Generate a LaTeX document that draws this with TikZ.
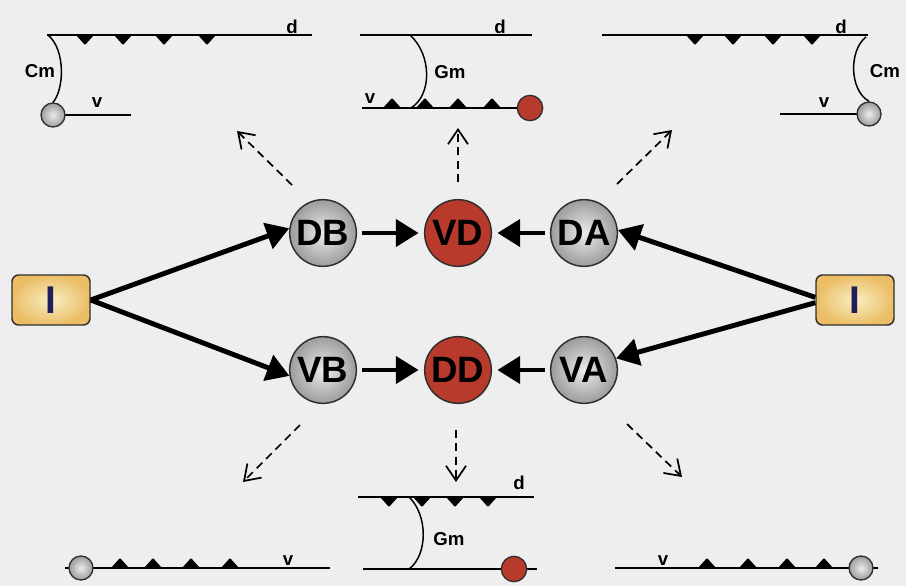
\documentclass[tikz,border=0pt]{standalone}
\usepackage{fontspec}
\setmainfont{Liberation Sans}
\usetikzlibrary{arrows.meta}
\definecolor{bgc}{HTML}{EEEEEE}
\definecolor{grayin}{HTML}{ECECEC}
\definecolor{grayout}{HTML}{9C9C9C}
\definecolor{cellred}{HTML}{B83A2C}
\definecolor{boxin}{HTML}{F8EEC2}
\definecolor{boxout}{HTML}{EBBE66}
\definecolor{navy}{HTML}{1E1E5C}
\definecolor{edge}{HTML}{2E2E2E}
\begin{document}
\begin{tikzpicture}[x=0.75pt,y=-0.75pt,
  graynode/.style={circle,draw=edge,line width=1.1pt,inner color=grayin,outer color=grayout,
    minimum size=50pt,inner sep=0pt,font=\bfseries\fontsize{27.5}{27.5}\selectfont},
  rednode/.style={circle,draw=edge,line width=1.1pt,fill=cellred,
    minimum size=50pt,inner sep=0pt,font=\bfseries\fontsize{27.5}{27.5}\selectfont},
  ibox/.style={rectangle,rounded corners=5pt,draw=edge,line width=1.1pt,inner color=boxin,outer color=boxout,
    minimum width=58.5pt,minimum height=37.5pt,inner sep=0pt,text=navy,font=\bfseries\fontsize{29}{29}\selectfont},
  smallgray/.style={circle,draw=edge,line width=1pt,inner color=grayin,outer color=grayout,minimum size=18pt,inner sep=0pt},
  smallred/.style={circle,draw=edge,line width=1pt,fill=cellred,minimum size=19pt,inner sep=0pt},
  mainarrow/.style={line width=3.7pt,-{Triangle[length=17pt,width=20pt]}},
  dasharrow/.style={line width=1.3pt,dash pattern=on 6pt off 4pt,-{Straight Barb[length=11pt,width=15pt,line width=1.3pt]}},
  pline/.style={line width=1.5pt},
  cline/.style={line width=1.1pt},
  tri/.style={fill=black,rounded corners=0.6pt},
  lbl/.style={anchor=base,inner sep=0pt,font=\bfseries\fontsize{14}{14}\selectfont}
]
\fill[bgc] (0,0) rectangle (906,586);
\useasboundingbox (0,0) rectangle (906,586);

% ---- main nodes
\node[ibox] (IL) at (51,300) {I};
\node[ibox] (IR) at (855,300) {I};
\node[graynode] (DB) at (323,233) {DB};
\node[rednode]  (VD) at (458,233) {VD};
\node[graynode] (DA) at (584,233) {DA};
\node[graynode] (VB) at (323,370) {VB};
\node[rednode]  (DD) at (458,370) {DD};
\node[graynode] (VA) at (584,370) {VA};

\draw[mainarrow] (IL.east) -- (DB.172);
\draw[mainarrow] (IL.east) -- (VB.190);
\draw[mainarrow] ([yshift=2pt]IR.west) -- (DA.5);
\draw[mainarrow] ([yshift=-2pt]IR.west) -- (VA.20);
\draw[mainarrow,shorten <=4pt,shorten >=4pt] (DB) -- (VD);
\draw[mainarrow,shorten <=4pt,shorten >=4pt] (DA) -- (VD);
\draw[mainarrow,shorten <=4pt,shorten >=4pt] (VB) -- (DD);
\draw[mainarrow,shorten <=4pt,shorten >=4pt] (VA) -- (DD);

% ---- dashed arrows
\coordinate (a1s) at (292,185); \coordinate (a1e) at (237,131);
\coordinate (a2s) at (458,182); \coordinate (a2e) at (458,128);
\coordinate (a3s) at (617,184); \coordinate (a3e) at (672,130);
\coordinate (a4s) at (300,425); \coordinate (a4e) at (243,482);
\coordinate (a5s) at (456,430); \coordinate (a5e) at (456,482);
\coordinate (a6s) at (627,424); \coordinate (a6e) at (682,477);
\draw[dasharrow] (a1s) -- (a1e);
\draw[dasharrow] (a2s) -- (a2e);
\draw[dasharrow] (a3s) -- (a3e);
\draw[dasharrow] (a4s) -- (a4e);
\draw[dasharrow] (a5s) -- (a5e);
\draw[dasharrow] (a6s) -- (a6e);

% ---- top-left panel
\draw[pline] (47,35) -- (312,35);
\foreach \x in {85,123,164,207} \fill[tri] ({\x-9},35) -- ({\x+9},35) -- (\x,45) -- cycle;
\draw[pline] (60,115) -- (131,115);
\node[smallgray] (tlc) at (53,115) {};
\draw[cline] (48,35) .. controls (66,50) and (64,90) .. (tlc.north);
\node[lbl] at (40,77) {Cm};
\node[lbl] at (97,107) {v};
\node[lbl] at (292,33) {d};

% ---- top-middle panel
\draw[pline] (360,35) -- (532,35);
\draw[pline] (362,108) -- (520,108);
\foreach \x in {392,425,458,492} \fill[tri] ({\x-9},108) -- ({\x+9},108) -- (\x,98) -- cycle;
\node[smallred] (tmc) at (530,108) {};
\draw[cline] (410,35) .. controls (432,55) and (432,95) .. (411,108);
\node[lbl] at (500,33) {d};
\node[lbl] at (450,78) {Gm};
\node[lbl] at (370,103) {v};

% ---- top-right panel
\draw[pline] (602,35) -- (868,35);
\foreach \x in {695,733,773,812} \fill[tri] ({\x-9},35) -- ({\x+9},35) -- (\x,45) -- cycle;
\draw[pline] (780,114) -- (860,114);
\node[smallgray] (trc) at (869,114) {};
\draw[cline] (866,37) .. controls (849,50) and (849,90) .. (trc.north);
\node[lbl] at (841,33) {d};
\node[lbl] at (885,77) {Cm};
\node[lbl] at (824,107) {v};

% ---- bottom-left panel
\draw[pline] (65,568) -- (330,568);
\foreach \x in {120,153,191,230} \fill[tri] ({\x-9},568) -- ({\x+9},568) -- (\x,558) -- cycle;
\node[smallgray] (blc) at (81,568) {};
\node[lbl] at (288,565) {v};

% ---- bottom-middle panel
\draw[pline] (358,497) -- (534,497);
\foreach \x in {389,422,455,488} \fill[tri] ({\x-9},497) -- ({\x+9},497) -- (\x,507) -- cycle;
\draw[pline] (363,569) -- (537,569);
\node[smallred] (bmc) at (514,569) {};
\draw[cline] (409,497) .. controls (428,515) and (428,555) .. (409,569);
\node[lbl] at (519,489) {d};
\node[lbl] at (449,545) {Gm};

% ---- bottom-right panel
\draw[pline] (615,568) -- (878,568);
\foreach \x in {707,748,787,824} \fill[tri] ({\x-9},568) -- ({\x+9},568) -- (\x,558) -- cycle;
\node[smallgray] (brc) at (861,568) {};
\node[lbl] at (663,565) {v};
\end{tikzpicture}
\end{document}
